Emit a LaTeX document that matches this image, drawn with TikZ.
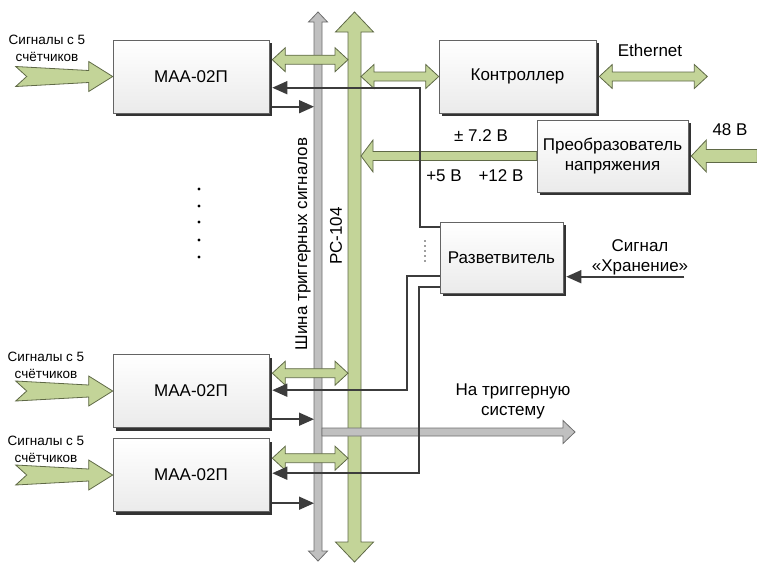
\documentclass[tikz,border=0pt]{standalone}
\usepackage{fontspec}
\setmainfont{Liberation Sans}
\usetikzlibrary{arrows.meta, calc, shadows}
\definecolor{bus-green}{RGB}{195,212,152}
\definecolor{bus-green-line}{RGB}{95,105,70}
\definecolor{bus-gray}{RGB}{192,192,192}
\definecolor{bus-gray-line}{RGB}{110,110,110}
\definecolor{sig-line}{RGB}{60,60,60}
\definecolor{box-line}{RGB}{100,100,100}

% broad arrow: [style]{from}{to}{half shaft}{half head}{head length}
\newcommand{\fatsingle}[6][]{%
  \coordinate (fa-s) at (#2);
  \coordinate (fa-e) at (#3);
  \coordinate (fa-h) at ($(fa-e)!#6!(fa-s)$);
  \draw[#1] ($(fa-s)!#4!90:(fa-e)$) -- ($(fa-h)!#4!90:(fa-e)$)
    -- ($(fa-h)!#5!90:(fa-e)$) -- (fa-e) -- ($(fa-h)!#5!-90:(fa-e)$)
    -- ($(fa-h)!#4!-90:(fa-e)$) -- ($(fa-s)!#4!-90:(fa-e)$) -- cycle;
}
\newcommand{\fatdouble}[6][]{%
  \coordinate (fa-s) at (#2);
  \coordinate (fa-e) at (#3);
  \coordinate (fa-h) at ($(fa-e)!#6!(fa-s)$);
  \coordinate (fa-g) at ($(fa-s)!#6!(fa-e)$);
  \draw[#1] (fa-s) -- ($(fa-g)!#5!90:(fa-e)$) -- ($(fa-g)!#4!90:(fa-e)$)
    -- ($(fa-h)!#4!90:(fa-e)$) -- ($(fa-h)!#5!90:(fa-e)$) -- (fa-e)
    -- ($(fa-h)!#5!-90:(fa-e)$) -- ($(fa-h)!#4!-90:(fa-e)$)
    -- ($(fa-g)!#4!-90:(fa-e)$) -- ($(fa-g)!#5!-90:(fa-e)$) -- cycle;
}
% notched input arrow: {tail}{tip}
\newcommand{\fatnotch}[2]{%
  \coordinate (fa-s) at (#1);
  \coordinate (fa-e) at (#2);
  \coordinate (fa-h) at ($(fa-e)!24pt!(fa-s)$);
  \coordinate (fa-n) at ($(fa-s)!11pt!(fa-e)$);
  \draw[greenbus] ($(fa-s)!10pt!90:(fa-e)$) -- ($(fa-h)!6pt!90:(fa-e)$)
    -- ($(fa-h)!15pt!90:(fa-e)$) -- (fa-e) -- ($(fa-h)!15pt!-90:(fa-e)$)
    -- ($(fa-h)!6pt!-90:(fa-e)$) -- ($(fa-s)!10pt!-90:(fa-e)$) -- (fa-n) -- cycle;
}

\begin{document}
\begin{tikzpicture}[x=1pt, y=-1pt,
    every node/.style={font=\fontsize{17}{20}\selectfont},
    block/.style={rectangle, draw=box-line, line width=0.6pt,
                  top color=white, bottom color=gray!16,
                  minimum width=156pt, minimum height=73pt, align=center,
                  drop shadow={shadow xshift=3pt, shadow yshift=-3pt,
                               fill=black!80, opacity=1}},
    greenbus/.style={draw=bus-green-line, fill=bus-green, line width=0.8pt},
    graybus/.style={draw=bus-gray-line, fill=bus-gray, line width=0.8pt},
    sig/.style={draw=sig-line, line width=1.6pt,
                -{Triangle[length=15pt, width=13pt]}},
    small/.style={font=\fontsize{13.5}{17}\selectfont, align=center},
  ]
  \useasboundingbox (0,0) rectangle (757,563);

  % bus positions
  \coordinate (tb-top) at (318,12);
  \coordinate (tb-bot) at (318,561);
  \coordinate (pc-top) at (354.5,12);
  \coordinate (pc-bot) at (354.5,562);
  \coordinate (tbL) at (314,0);
  \coordinate (tbR) at (322,0);
  \coordinate (pcL) at (348,0);
  \coordinate (pcR) at (361,0);

  % blocks
  \node[block] (maa1) at (191,76.5) {МАА-02П};
  \node[block] (maa2) at (191,391) {МАА-02П};
  \node[block] (maa3) at (191,475) {МАА-02П};
  \node[block, minimum width=157pt] (ctrl) at (517.5,76.5) {Контроллер};
  \node[block, minimum width=151pt, minimum height=72pt] (conv) at (612.5,156)
    {Преобразователь\\напряжения};
  \node[block, minimum width=123pt, minimum height=71pt] (split) at (501.5,257.5)
    {Разветвитель};

  % buses
  \fatdouble[graybus]{tb-top}{tb-bot}{4pt}{9.5pt}{10pt}
  \fatdouble[greenbus]{pc-top}{pc-bot}{6.5pt}{19pt}{20pt}

  % PC-104 links
  \fatdouble[greenbus]{[xshift=3pt,yshift=-20pt]maa1.north east}{pcL |- fa-s}{4.5pt}{12pt}{13pt}
  \fatdouble[greenbus]{[xshift=3pt,yshift=-19pt]maa2.north east}{pcL |- fa-s}{4.5pt}{12pt}{13pt}
  \fatdouble[greenbus]{[xshift=3pt,yshift=-20pt]maa3.north east}{pcL |- fa-s}{4.5pt}{12pt}{13pt}
  \fatdouble[greenbus]{pcR |- ctrl.west}{ctrl.west}{4.5pt}{12pt}{13pt}
  \fatdouble[greenbus]{[xshift=3pt]ctrl.east}{$(fa-s)+(108,0)$}{4.5pt}{12pt}{13pt}

  % trigger output
  \coordinate (trig) at (575,432);
  \fatsingle[graybus]{tbR |- trig}{trig}{4pt}{11.5pt}{12pt}

  % power
  \fatsingle[greenbus]{conv.west}{pcR |- fa-s}{4.5pt}{16pt}{12pt}
  \fatsingle[greenbus]{$(conv.east)+(69,0)$}{[xshift=3pt]conv.east}{6.5pt}{16pt}{15pt}

  % detector inputs
  \fatnotch{$(maa1.west)+(-97,0)$}{maa1.west}
  \fatnotch{$(maa2.west)+(-97,0)$}{maa2.west}
  \fatnotch{$(maa3.west)+(-97,0)$}{maa3.west}

  % splitter lines
  \draw[sig] ([yshift=-5pt]split.north west) -- ++(-20,0)
    |- ([xshift=3pt,yshift=-48pt]maa1.north east);
  \draw[sig] ([yshift=-54pt]split.north west) -- ++(-33,0)
    |- ([xshift=3pt,yshift=-36pt]maa2.north east);
  \draw[sig] ([yshift=-65pt]split.north west) -- ++(-21,0)
    |- ([xshift=3pt,yshift=-35pt]maa3.north east);
  \coordinate (split-in) at ([xshift=3pt,yshift=-55pt]split.north east);
  \coordinate (store) at ($(split-in)+(118,0)$);
  \draw[sig] (store) -- (split-in);

  % trigger bus outputs
  \draw[sig] ([xshift=3pt,yshift=-67pt]maa1.north east) coordinate (o1) -- (o1 -| tbL);
  \draw[sig] ([xshift=3pt,yshift=-65pt]maa2.north east) coordinate (o2) -- (o2 -| tbL);
  \draw[sig] ([xshift=3pt,yshift=-65pt]maa3.north east) coordinate (o3) -- (o3 -| tbL);

  % dots
  \foreach \y in {189,206,222,240,257}
    \fill (199,\y) circle (1.7);
  \foreach \y in {241,246,...,261}
    \fill[sig-line] (425,\y) circle (0.9);

  % labels
  \node[small] (lbl-in1) at (47,48) {Сигналы с 5\\счётчиков};
  \node[small] (lbl-in2) at (46,365) {Сигналы с 5\\счётчиков};
  \node[small] (lbl-in3) at (46,449) {Сигналы с 5\\счётчиков};
  \node (lbl-eth) at (650,50) {Ethernet};
  \node (lbl-72) at (481,136) {± 7.2 В};
  \node (lbl-5) at (444,176) {+5 В};
  \node (lbl-12) at (501,176) {+12 В};
  \node (lbl-48) at (730,130) {48 В};
  \node[align=center] (lbl-store) at (640,257) {Сигнал\\«Хранение»};
  \node[align=center] (lbl-trig) at (513,401) {На триггерную\\систему};
  \node[rotate=90] (lbl-tbus) at (303,244) {Шина триггерных сигналов};
  \node[rotate=90] (lbl-pc) at (336,236) {PC-104};
\end{tikzpicture}
\end{document}
